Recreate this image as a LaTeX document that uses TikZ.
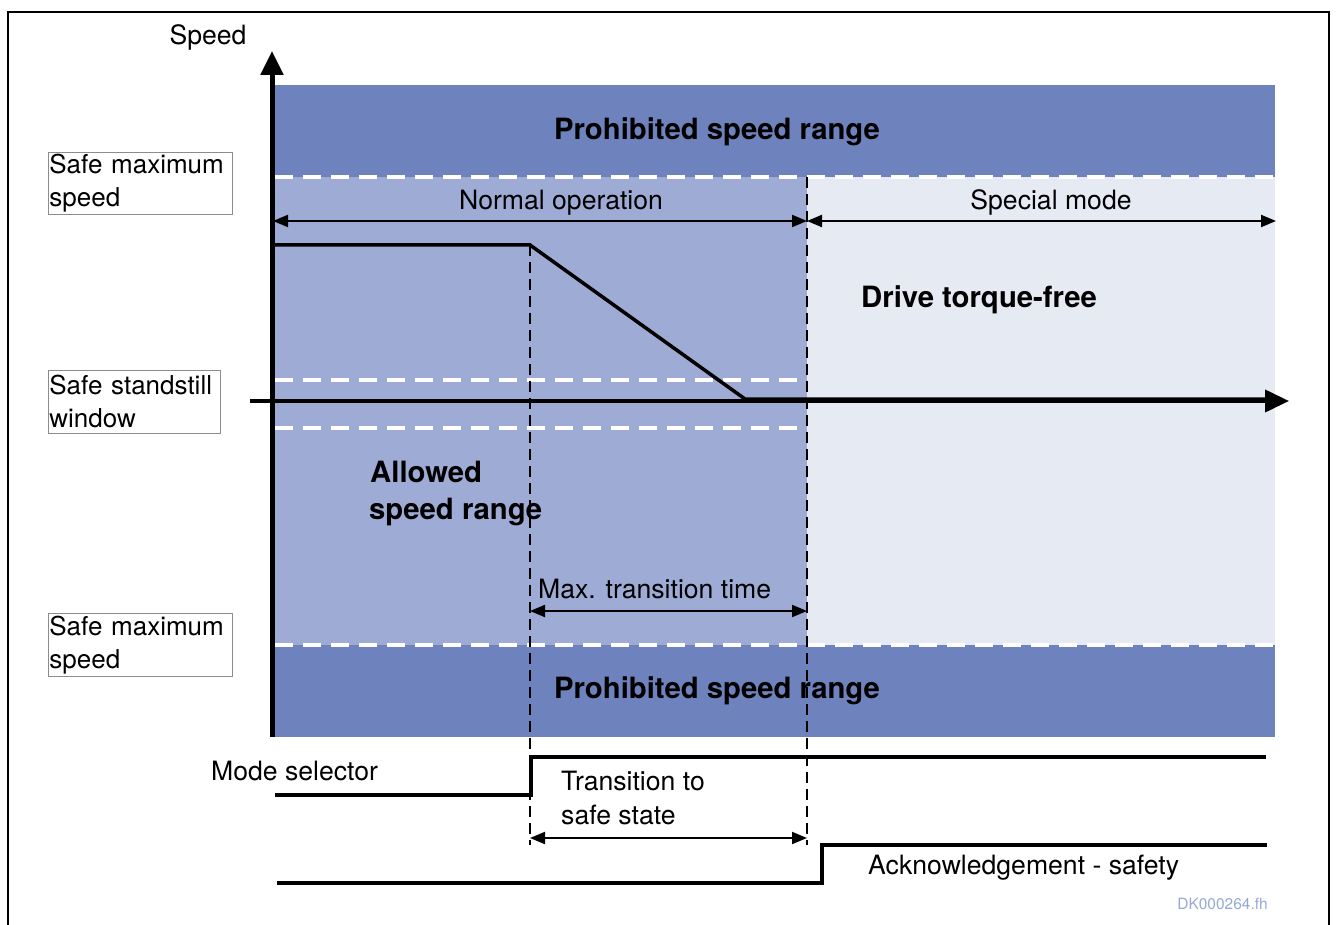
\documentclass[tikz,border=0pt]{standalone}
\usepackage{fontspec}
\setmainfont{TeX Gyre Heros}
\usetikzlibrary{arrows.meta}
\definecolor{prohib}{RGB}{110,131,189}
\definecolor{allowed}{RGB}{158,172,213}
\definecolor{special}{RGB}{230,234,243}
\definecolor{docid}{RGB}{150,168,212}
\begin{document}
\begin{tikzpicture}[x=1pt,y=-1pt,
  lbl/.style={font=\fontsize{26.6}{33}\selectfont, inner sep=0pt},
  boldlbl/.style={font=\fontsize{29.3}{37}\selectfont\bfseries, inner sep=0pt, align=left},
  legend/.style={draw=black!45, line width=0.8pt, anchor=north west, align=left,
    inner xsep=1pt, inner ysep=0pt, minimum height=62pt,
    font=\fontsize{26}{33}\selectfont},
  whitedash/.style={draw=white, line width=4pt, dash pattern=on 18pt off 10pt},
  blackdash/.style={draw=black, line width=2.3pt, dash pattern=on 11pt off 6pt},
  signal/.style={draw=black, line width=3.5pt},
  dim/.style={draw=black, line width=2pt, {Triangle[length=15pt,width=12pt]}-{Triangle[length=15pt,width=12pt]}},
  axis/.style={draw=black, line width=4.5pt, -{Triangle[length=24pt,width=22pt]}}]
\useasboundingbox (0,0) rectangle (1336,925);

% frame
\draw[line width=2.7pt] (8,930) -- (8,12) -- (1329,12) -- (1329,930);

% speed bands
\fill[prohib] (275,85) rectangle (1275,177);
\fill[allowed] (275,177) rectangle (807,645);
\fill[special] (807,177) rectangle (1275,645);
\fill[prohib] (275,645) rectangle (1275,737);

% band limits (safe maximum speed, safe standstill window)
\coordinate (lim1a) at (275,177); \coordinate (lim1b) at (1275,177);
\coordinate (lim2a) at (275,645); \coordinate (lim2b) at (1275,645);
\coordinate (ssa) at (275,380); \coordinate (ssb) at (807,380);
\coordinate (ssc) at (275,428); \coordinate (ssd) at (807,428);
\draw[whitedash] (lim1a) -- (lim1b);
\draw[whitedash] (lim2a) -- (lim2b);
\draw[whitedash] (ssa) -- (ssb);
\draw[whitedash] (ssc) -- (ssd);

% time markers
\coordinate (t1top) at (530,245); \coordinate (t1bot) at (530,845);
\coordinate (t2top) at (807,177); \coordinate (t2bot) at (807,845);
\draw[blackdash] (t1top) -- (t1bot);
\draw[blackdash] (t2top) -- (t2bot);

% axes
\coordinate (yaxis0) at (272,737); \coordinate (yaxis1) at (272,51);
\coordinate (xaxis0) at (250,401); \coordinate (xaxis1) at (1289,401);
\draw[axis, line width=5pt] (yaxis0) -- (yaxis1);
\draw[axis, line width=4pt] (xaxis0) -- (xaxis1);

% speed profile
\coordinate (v0) at (275,245); \coordinate (v1) at (530,245);
\coordinate (v2) at (745,399); \coordinate (v3) at (1266,399);
\draw[signal, line join=miter] (v0) -- (v1) -- (v2) -- (v3);

% mode selector and acknowledgement signals
\coordinate (m0) at (275,795); \coordinate (m1) at (531,795);
\coordinate (m2) at (531,757); \coordinate (m3) at (1266,757);
\draw[signal] (m0) -- (m1) -- (m2) -- (m3);
\coordinate (a0) at (277,883); \coordinate (a1) at (822,883);
\coordinate (a2) at (822,845); \coordinate (a3) at (1267,845);
\draw[signal] (a0) -- (a1) -- (a2) -- (a3);

% dimension arrows
\coordinate (no0) at (273,221); \coordinate (no1) at (807,221);
\coordinate (sm1) at (1276,221);
\draw[dim] (no0) -- (no1);
\draw[dim] (no1) -- (sm1);
\coordinate (mt0) at (530,611); \coordinate (mt1) at (807,611);
\draw[dim] (mt0) -- (mt1);
\coordinate (ts0) at (530,838); \coordinate (ts1) at (807,838);
\draw[dim] (ts0) -- (ts1);

% texts
\node[lbl, anchor=base] (speed) at (208,45) {Speed};
\node[lbl, anchor=base] (normal) at (561,210) {Normal operation};
\node[lbl, anchor=base] (special) at (1051,210) {Special mode};
\node[boldlbl, anchor=base] (prohibtop) at (717,140) {Prohibited speed range};
\node[boldlbl, anchor=base] (prohibbot) at (717,698) {Prohibited speed range};
\node[boldlbl, anchor=base west] (torque) at (861,308) {Drive torque-free};
\node[boldlbl, anchor=base west] (allowed1) at (370,482) {Allowed};
\node[boldlbl, anchor=base west] (allowed2) at (369,519) {speed range};
\node[lbl, anchor=base west] (maxtt) at (538,598) {Max. transition time};
\node[lbl, anchor=base west] (mode) at (211,780) {Mode selector};
\node[lbl, anchor=base west] (trans1) at (561,790) {Transition to};
\node[lbl, anchor=base west] (trans2) at (561,824) {safe state};
\node[lbl, anchor=base west] (ack) at (868,874) {Acknowledgement - safety};
\node[font=\fontsize{15.5}{18}\selectfont, text=docid, inner sep=0pt, anchor=base east] (docid) at (1268,909) {DK000264.fh};

% legends
\node[legend, minimum width=184pt, text width=182pt] (smax1) at (48,152) {Safe maximum\\speed};
\node[legend, minimum width=172pt, text width=170pt, minimum height=63pt] (sstill) at (48,370) {Safe standstill\\window};
\node[legend, minimum width=184pt, text width=182pt, minimum height=63pt] (smax2) at (48,613) {Safe maximum\\speed};
\end{tikzpicture}
\end{document}
